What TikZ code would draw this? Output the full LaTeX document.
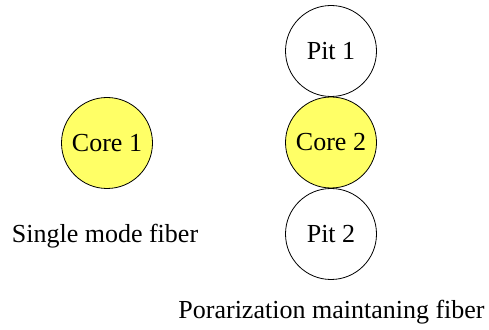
\documentclass[tikz,border=0pt]{standalone}
\usepackage{fontspec}
\setmainfont{Liberation Serif}
\definecolor{coreyellow}{RGB}{255,255,102}
\begin{document}
\begin{tikzpicture}[x=1pt,y=1pt,
  fibre/.style={circle,draw=black,line width=0.8pt,minimum size=91pt,inner sep=0pt,font=\fontsize{26}{31}\selectfont},
  core/.style={fibre,fill=coreyellow},
  pit/.style={fibre,fill=white},
  caption/.style={anchor=base,inner sep=0pt,font=\fontsize{26}{31}\selectfont}]
\useasboundingbox (0,0) rectangle (489,329);
\node[core] (c1) at (107,186) {Core 1};
\node[core] (c2) at (331,186.5) {Core 2};
\node[pit] (p1) at (331,278) {Pit 1};
\node[pit] (p2) at (331,95) {Pit 2};
\node[caption] (t1) at (105,86) {Single mode fiber};
\node[caption] (t2) at (331.5,10.5) {Porarization maintaning fiber};
\end{tikzpicture}
\end{document}
